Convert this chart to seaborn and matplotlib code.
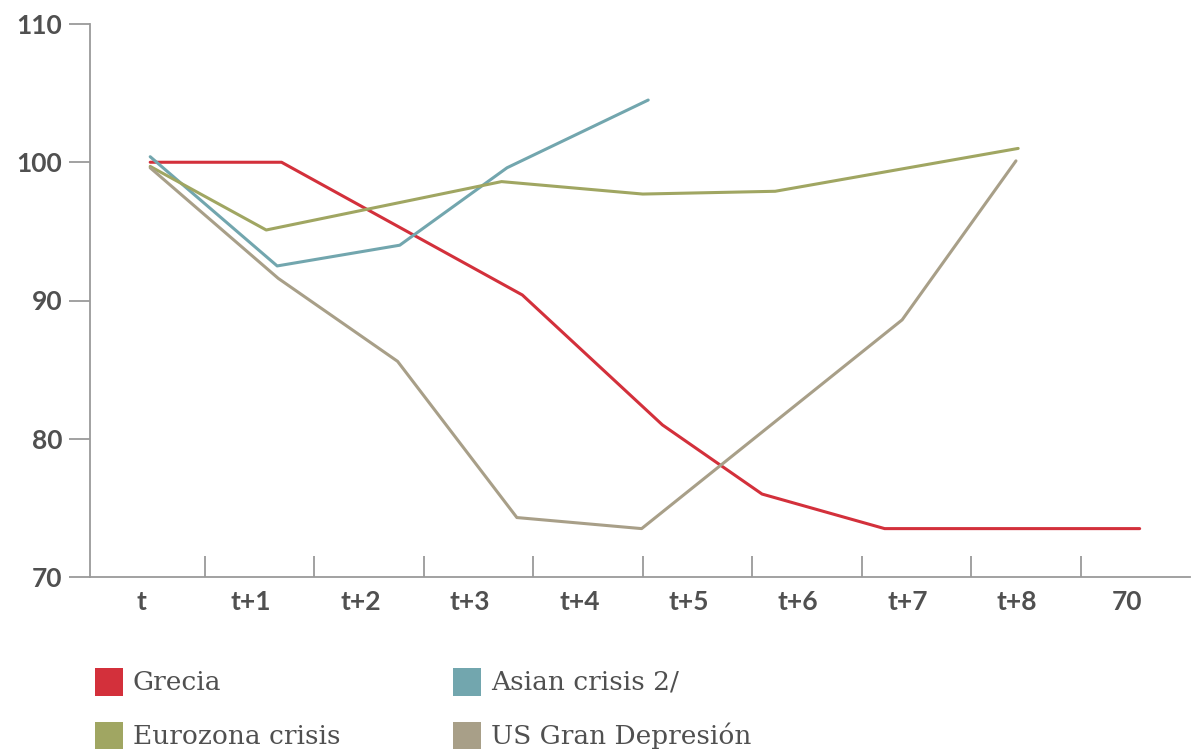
import pandas as pd
import seaborn as sns
import numpy as np
import matplotlib.pyplot as plt
from matplotlib.patches import Rectangle
from matplotlib.ticker import FixedLocator


categories = ['t', 't+1', 't+2', 't+3', 't+4', 't+5', 't+6', 't+7', 't+8', '70']
y_ticks = [70, 80, 90, 100, 110]

series_names = ['Grecia', 'Asian crisis 2/', 'Eurozona crisis', 'US Gran Depresión']
colors = ['#d3303b', '#72a6ae', '#a0a662', '#a89f88']

# x positions are read in category units (t = 0)
grecia_x = [0.0, 1.20, 3.40, 4.68, 5.59, 6.71, 9.04]
grecia_y = [100.0, 100.0, 90.4, 81.0, 76.0, 73.5, 73.5]

asian_x = [0.0, 1.16, 2.28, 3.26, 4.55]
asian_y = [100.4, 92.5, 94.0, 99.6, 104.5]

euro_x = [0.0, 1.06, 3.21, 4.50, 5.71, 7.93]
euro_y = [99.7, 95.1, 98.6, 97.7, 97.9, 101.0]

us_x = [0.0, 1.17, 2.26, 3.35, 4.49, 6.87, 7.91]
us_y = [99.6, 91.6, 85.6, 74.3, 73.5, 88.6, 100.1]


def build_frame():
    parts = []
    for name, xs, ys in zip(series_names,
                            [grecia_x, asian_x, euro_x, us_x],
                            [grecia_y, asian_y, euro_y, us_y]):
        parts.append(pd.DataFrame({'x': xs, 'y': ys, 'serie': name}))
    return pd.concat(parts, ignore_index=True)


df = build_frame()

sns.set_style('white')
plt.rcParams['font.family'] = ['Lato', 'DejaVu Sans']

fig = plt.figure(figsize=(11.92, 7.49), dpi=100)
ax = fig.add_axes([90 / 1192, 1 - 577 / 749, 1100 / 1192, 553 / 749])

sns.lineplot(data=df, x='x', y='y', hue='serie', hue_order=series_names,
             palette=colors, sort=False, estimator=None, linewidth=2.2,
             legend=False, ax=ax)

text_color = '#505050'
axis_color = '#9a9a9a'

ax.set_xlim(-0.55, 9.5)
ax.set_ylim(70, 110)
ax.set_xlabel('')
ax.set_ylabel('')

for side in ['top', 'right']:
    ax.spines[side].set_visible(False)
for side in ['left', 'bottom']:
    ax.spines[side].set_color(axis_color)
    ax.spines[side].set_linewidth(1.3)

ax.set_yticks(y_ticks)
ax.set_yticklabels([str(v) for v in y_ticks])
ax.tick_params(axis='y', left=True, direction='out', length=15, width=1.3,
               color=axis_color, pad=5, labelsize=19, labelcolor=text_color)

ax.set_xticks(np.arange(len(categories)) - 0.08)
ax.set_xticklabels(categories)
ax.xaxis.set_minor_locator(FixedLocator(np.arange(0.5, len(categories) - 0.5, 1)))
ax.tick_params(axis='x', which='major', bottom=True, length=0, pad=9, labelsize=19,
               labelcolor=text_color)
ax.tick_params(axis='x', which='minor', bottom=True, direction='in', length=15,
               width=1.3, color=axis_color)
for lab in ax.get_xticklabels() + ax.get_yticklabels():
    lab.set_fontweight('bold')

# legend as coloured squares, two columns
legend_pos = [(95, 668), (453, 668), (95, 722), (453, 722)]
legend_order = [0, 1, 2, 3]
for (px, py), i in zip(legend_pos, legend_order):
    fig.patches.append(Rectangle((px / 1192, 1 - (py + 28) / 749), 28 / 1192, 28 / 749,
                                 transform=fig.transFigure, facecolor=colors[i],
                                 edgecolor='none'))
    fig.text((px + 38) / 1192, 1 - (py + 14) / 749, series_names[i],
             fontsize=19, color=text_color, va='center', ha='left',
             family=['DejaVu Serif'])

fig.savefig('out.png', dpi=100)
